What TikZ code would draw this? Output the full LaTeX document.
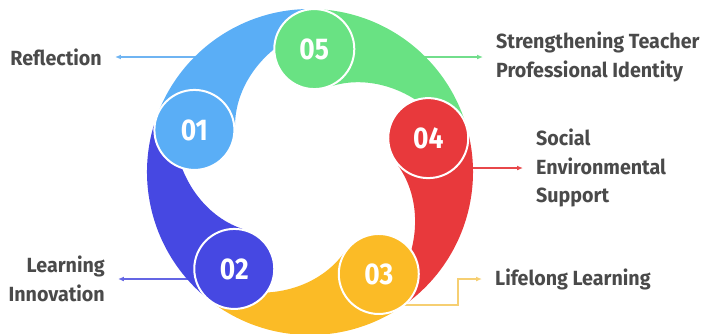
\documentclass[tikz,border=0pt]{standalone}
\usepackage{fontspec}
\setmainfont{Fira Sans}
\usetikzlibrary{arrows.meta}
\definecolor{c1}{HTML}{5AAEF6}
\definecolor{c2}{HTML}{4648E2}
\definecolor{c3}{HTML}{FBBB26}
\definecolor{c4}{HTML}{E8393C}
\definecolor{c5}{HTML}{69E283}
\definecolor{a1}{HTML}{6FB4F2}
\definecolor{a2}{HTML}{6466E4}
\definecolor{a3}{HTML}{F6CF72}
\definecolor{a4}{HTML}{E8474A}
\definecolor{a5}{HTML}{72DE8C}
\definecolor{txt}{HTML}{4A4A4A}
\begin{document}
\begin{tikzpicture}[x=1pt,y=1pt,
  num/.style={circle, draw=white, line width=2pt, minimum size=80pt, inner sep=0pt,
    text=white, font=\fontsize{30}{30}\selectfont\bfseries\addfontfeature{FakeStretch=0.88}},
  lab/.style={text=txt, font=\fontsize{20.5}{28.5}\selectfont\bfseries\addfontfeature{FakeStretch=0.96},
    inner ysep=0pt, inner xsep=13pt},
  arr/.style={line width=1.2pt, -{Latex[length=6pt,width=5pt]}}]
\useasboundingbox (-310,-161) rectangle (393,172);
% labels
\node[lab, anchor=east] (l1) at (-195,115) {Reflection};
\node[lab, anchor=east, align=right] (l2) at (-192,-107) {Learning\\Innovation};
\node[lab, anchor=west] (l3) at (172,-107) {Lifelong Learning};
\node[lab, anchor=west, align=left] (l4) at (213,4) {Social\\Environmental\\Support};
\node[lab, anchor=west, align=left] (l5) at (173,115) {Strengthening Teacher\\Professional Identity};
% connector start points (hidden under the ring)
\coordinate (s1) at (-110,115);
\coordinate (s2) at (-110,-107);
\coordinate (s3) at (80,-133);
\coordinate (b3) at (148,-133);
\coordinate (s4) at (120,4);
\coordinate (s5) at (110,115);
\draw[arr, a1] (s1) -- (l1.east);
\draw[arr, a2] (s2) -- (l2.east);
\draw[arr, a3] (s3) -- (b3) |- (l3.west);
\draw[arr, a4] (s4) -- (l4.west);
\draw[arr, a5] (s5) -- (l5.west);
% ring segments
\foreach \a/\col in {160/c1, 232/c2, 304/c3, 16/c4, 88/c5} {
  \begin{scope}[rotate=\a]
    \fill[\col] (0:163) arc[start angle=0, end angle=-72, radius=163]
      -- (-72:145.4)
      -- plot[domain=-72:-12, samples=50] (\x:{77-0.95*\x})
      -- (0:100) -- cycle;
  \end{scope}
}
% numbered circles
\node[num, fill=c1] (n1) at (160:123) {01};
\node[num, fill=c2] (n2) at (232:123) {02};
\node[num, fill=c3] (n3) at (304:123) {03};
\node[num, fill=c4] (n4) at (16:123) {04};
\node[num, fill=c5] (n5) at (88:123) {05};
\end{tikzpicture}
\end{document}
